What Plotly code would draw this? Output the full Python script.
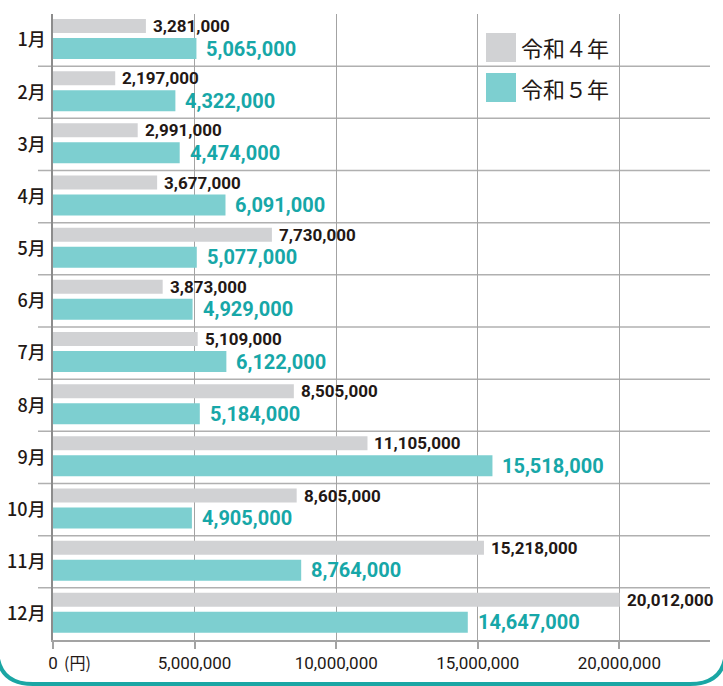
import plotly.graph_objects as go

# ---- data ----
months = ["1月", "2月", "3月", "4月", "5月", "6月", "7月", "8月", "9月", "10月", "11月", "12月"]
r4_values = [3281000, 2197000, 2991000, 3677000, 7730000, 3873000, 5109000, 8505000,
             11105000, 8605000, 15218000, 20012000]
r5_values = [5065000, 4322000, 4474000, 6091000, 5077000, 4929000, 6122000, 5184000,
             15518000, 4905000, 8764000, 14647000]
series_names = ["令和４年", "令和５年"]
x_tickvals = [0, 5000000, 10000000, 15000000, 20000000]
x_ticktext = ["0", "5,000,000", "10,000,000", "15,000,000", "20,000,000"]
unit_label = "(円)"

# ---- style ----
W, H = 723, 686
ML, MR, MT, MB = 53, 13, 14, 46
PW, PH = W - ML - MR, H - MT - MB
GRAY = "#d1d2d4"
TEAL = "#7dcfd0"
TEAL_TEXT = "#17a7a8"
BORDER = "#1aa6a4"
DARK = "#231815"
GRID = "#a3a3a3"
NUM_FONT = "Roboto"
JP_FONT = "Noto Sans CJK JP"


def px_x(px):
    return (px - ML) / PW


def px_y(py):
    return (MT + PH - py) / PH


idx = list(range(len(months)))
G_OFF, G_W = -0.404, 0.268
T_OFF, T_W = -0.04, 0.403

fig = go.Figure()
fig.add_trace(go.Bar(y=idx, x=r4_values, orientation="h", name=series_names[0],
                     marker=dict(color=GRAY, line=dict(width=0)),
                     offset=G_OFF, width=G_W, hoverinfo="x"))
fig.add_trace(go.Bar(y=idx, x=r5_values, orientation="h", name=series_names[1],
                     marker=dict(color=TEAL, line=dict(width=0)),
                     offset=T_OFF, width=T_W, hoverinfo="x"))

annotations = []
for i, (a, b) in enumerate(zip(r4_values, r5_values)):
    annotations.append(dict(x=a, y=i + G_OFF + G_W / 2, xref="x", yref="y",
                            text=f"{a:,}", showarrow=False, xanchor="left", yanchor="middle",
                            xshift=5, font=dict(family=NUM_FONT, size=17, color=DARK,
                                                weight="bold")))
    annotations.append(dict(x=b, y=i + T_OFF + T_W / 2, xref="x", yref="y",
                            text=f"{b:,}", showarrow=False, xanchor="left", yanchor="middle",
                            xshift=8, font=dict(family=NUM_FONT, size=20, color=TEAL_TEXT,
                                                weight="bold")))

# unit label next to 0
annotations.append(dict(x=0, y=px_y(662), xref="x", yref="paper", text=unit_label,
                        showarrow=False, xanchor="left", yanchor="middle", xshift=9,
                        font=dict(family=JP_FONT, size=16, color=DARK)))

# legend (manual)
shapes = []
leg_rows = [(33, 62, GRAY, series_names[0]), (73, 102, TEAL, series_names[1])]
for y0, y1, col, name in leg_rows:
    shapes.append(dict(type="rect", xref="paper", yref="paper",
                       x0=px_x(486), x1=px_x(516), y0=px_y(y1), y1=px_y(y0),
                       fillcolor=col, line=dict(width=0), layer="above"))
    annotations.append(dict(x=px_x(519), y=px_y((y0 + y1) / 2), xref="paper", yref="paper",
                            text=name, showarrow=False, xanchor="left", yanchor="middle",
                            font=dict(family=JP_FONT, size=22, color=DARK)))

# separators between months
for i in range(len(months) - 1):
    shapes.append(dict(type="line", xref="paper", yref="y", x0=px_x(38), x1=1,
                       y0=i + 0.5, y1=i + 0.5, line=dict(color="#b0b0b0", width=1.5),
                       layer="below"))

# rounded border at bottom
pts = dict(l=px_x(-3), r=px_x(726), b=px_y(684), s=px_y(648), top=px_y(500),
           lc=px_x(33), rc=px_x(690))
path = (f"M {pts['l']},{pts['top']} L {pts['l']},{pts['s']} "
        f"Q {pts['l']},{pts['b']} {pts['lc']},{pts['b']} "
        f"L {pts['rc']},{pts['b']} Q {pts['r']},{pts['b']} {pts['r']},{pts['s']} "
        f"L {pts['r']},{pts['top']}")
shapes.append(dict(type="path", xref="paper", yref="paper", path=path,
                   line=dict(color=BORDER, width=4), layer="above"))

fig.update_layout(
    width=W, height=H,
    margin=dict(l=ML, r=MR, t=MT, b=MB, pad=0, autoexpand=False),
    paper_bgcolor="white", plot_bgcolor="white",
    barmode="overlay", showlegend=False,
    annotations=annotations, shapes=shapes,
    xaxis=dict(range=[0, 23200000], tickvals=x_tickvals, ticktext=x_ticktext,
               automargin=False,
               showgrid=True, gridcolor=GRID, gridwidth=1.2, zeroline=False,
               showline=True, linecolor=GRID, linewidth=1.5,
               ticks="outside", ticklen=7, tickcolor=GRID, tickwidth=1.5,
               tickfont=dict(family=NUM_FONT, size=17, color=DARK), fixedrange=True),
    yaxis=dict(range=[len(months) - 0.5, -0.5], tickvals=idx, ticktext=months,
               automargin=False,
               showgrid=False, zeroline=False, showline=True, linecolor="#8c8c8c",
               linewidth=1.5, ticks="", ticklabelstandoff=2,
               tickfont=dict(family=JP_FONT, size=18, color=DARK, weight=500),
               fixedrange=True),
)

fig.write_html("out.html")
